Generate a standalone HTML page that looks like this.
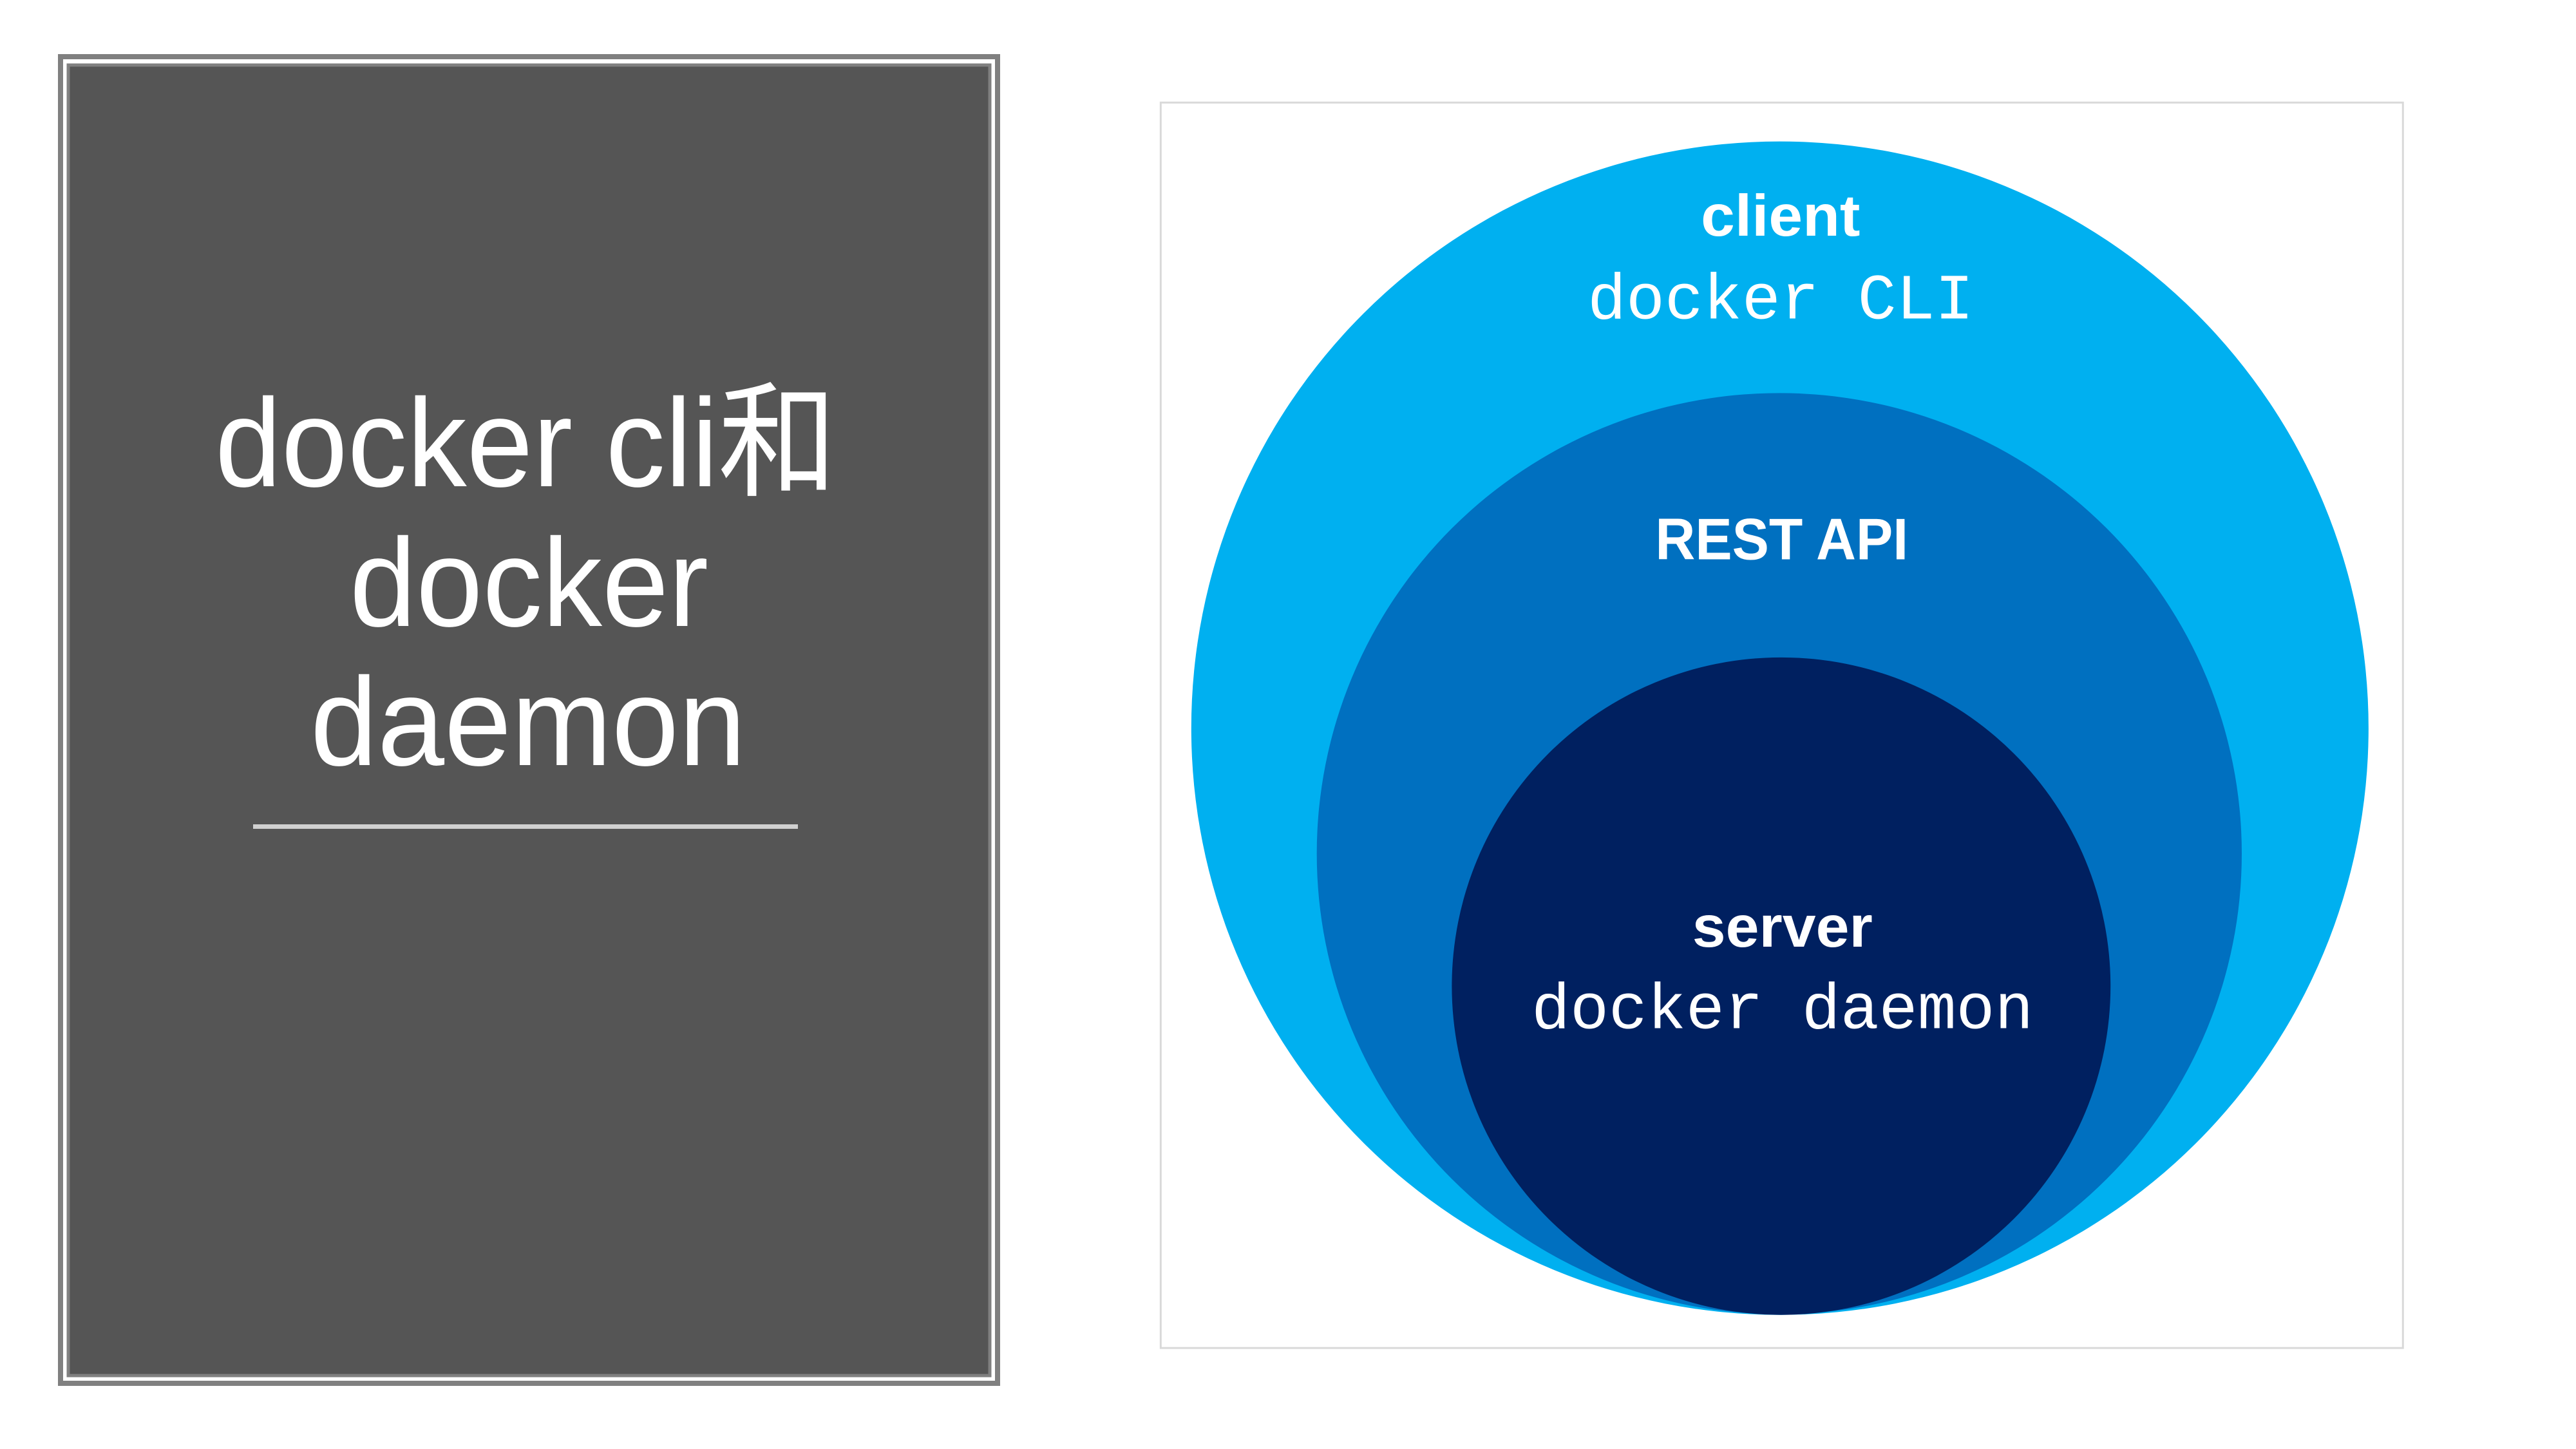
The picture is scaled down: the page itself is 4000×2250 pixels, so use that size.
<!DOCTYPE html>
<html><head><meta charset="utf-8"><style>html,body{margin:0;padding:0;background:#fff}svg{display:block}</style></head>
<body>
<svg width="4000" height="2250" viewBox="0 0 4000 2250" xmlns="http://www.w3.org/2000/svg">
<rect width="4000" height="2250" fill="#fff"/>
<rect x="94" y="88" width="1455" height="2060" fill="none" stroke="#808080" stroke-width="8"/>
<rect x="106" y="101" width="1431" height="2035" fill="#555555" stroke="#808080" stroke-width="5"/>
<g fill="#fff" font-family="Liberation Sans, Noto Sans CJK SC, sans-serif" font-size="195">
<text x="334" y="755" textLength="966" lengthAdjust="spacingAndGlyphs">docker cli和</text>
<text x="543" y="972" textLength="557" lengthAdjust="spacingAndGlyphs">docker</text>
<text x="482" y="1188" textLength="676" lengthAdjust="spacingAndGlyphs">daemon</text>
</g>
<rect x="393" y="1280" width="846" height="7" fill="#d0d0d0"/>
<g transform="scale(0.9892)">
<rect x="1822" y="161" width="1950" height="1955" fill="#fff" stroke="#d9d9d9" stroke-width="3"/>
<ellipse cx="2794" cy="1143" rx="924" ry="921" fill="#00b0f0"/>
<ellipse cx="2793" cy="1340" rx="726" ry="723" fill="#0070c0"/>
<ellipse cx="2796" cy="1548" rx="517" ry="516" fill="#002060"/>
<g fill="#fff" text-anchor="middle">
<text x="2795" y="370" font-family="Liberation Sans, sans-serif" font-weight="bold" font-size="92" textLength="250" lengthAdjust="spacingAndGlyphs">client</text>
<text x="2795" y="500" font-family="Liberation Mono, monospace" font-size="101">docker CLI</text>
<text x="2797" y="878" font-family="Liberation Sans, sans-serif" font-weight="bold" font-size="92" textLength="397" lengthAdjust="spacingAndGlyphs">REST API</text>
<text x="2798" y="1486" font-family="Liberation Sans, sans-serif" font-weight="bold" font-size="92" textLength="283" lengthAdjust="spacingAndGlyphs">server</text>
<text x="2798" y="1614" font-family="Liberation Mono, monospace" font-size="101">docker daemon</text>
</g>
</g>
</svg>
</body></html>
